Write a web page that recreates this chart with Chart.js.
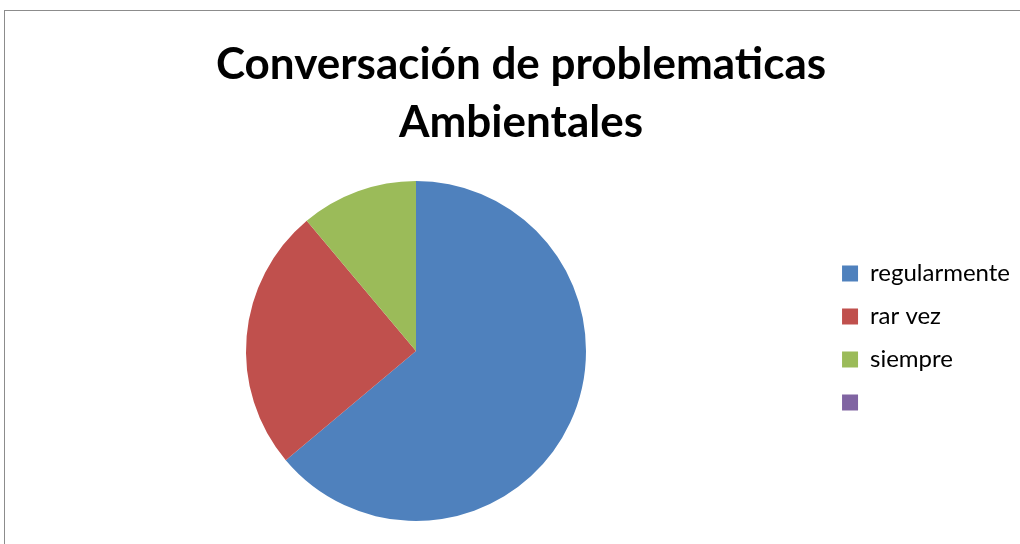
<!DOCTYPE html>
<html>
<head>
<meta charset="utf-8">
<script src="https://cdn.jsdelivr.net/npm/chart.js@4.4.0/dist/chart.umd.min.js"></script>
<style>
  html, body { margin: 0; padding: 0; background: #fff; }
  #wrap { position: relative; width: 1020px; height: 544px; overflow: hidden; }
  #frame { position: absolute; left: 4px; top: 10px; width: 1040px; height: 600px; border: 1px solid #8c8c8c; box-sizing: border-box; }
  canvas { position: absolute; left: 0; top: 0; }
</style>
</head>
<body>
<div id="wrap">
  <div id="frame"></div>
  <canvas id="c" width="1020" height="544"></canvas>
</div>
<script>
const categories = ['regularmente', 'rar vez', 'siempre', ''];
const values = [23, 9, 4, 0];
const colors = ['#4F81BD', '#C0504D', '#9BBB59', '#8064A2'];
const titleLines = ['Conversación de problematicas', 'Ambientales'];

// plot area for the pie (layout only)
const pieArea = { left: 246, top: 181, right: 586, bottom: 521 };

const pieAreaPlugin = {
  id: 'pieArea',
  afterLayout(chart) {
    const a = chart.chartArea;
    a.left = pieArea.left; a.right = pieArea.right;
    a.top = pieArea.top; a.bottom = pieArea.bottom;
    a.width = a.right - a.left; a.height = a.bottom - a.top;
  }
};

new Chart(document.getElementById('c'), {
  type: 'pie',
  data: {
    labels: categories,
    datasets: [{ data: values, backgroundColor: colors, borderWidth: 0 }]
  },
  plugins: [pieAreaPlugin],
  options: {
    responsive: false,
    animation: false,
    layout: { padding: { left: 22, right: 0, top: 0, bottom: 49 } },
    plugins: {
      tooltip: { enabled: false },
      title: {
        display: true,
        text: titleLines,
        color: '#000',
        font: { family: 'Lato', size: 44, weight: 'bold', lineHeight: 1.318 },
        padding: { top: 36, bottom: 29 }
      },
      legend: {
        position: 'right',
        fullSize: false,
        labels: {
          color: '#000',
          font: { family: 'Lato', size: 24 },
          boxWidth: 16,
          boxHeight: 16,
          padding: 19
        }
      }
    }
  }
});
</script>
</body>
</html>
